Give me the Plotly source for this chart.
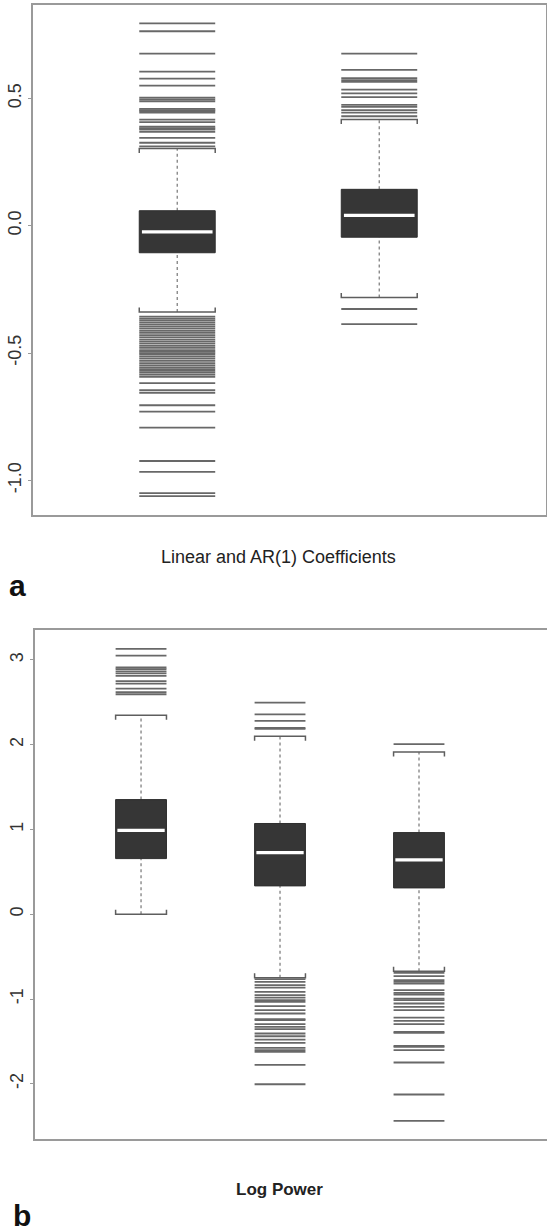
import plotly.graph_objects as go

# ---------------- DATA ----------------
# Panel a: Linear and AR(1) coefficients (2 groups)
a_pos = [1, 2]
a_q1 = [-0.106, -0.045]
a_med = [-0.024, 0.041]
a_q3 = [0.059, 0.143]
a_lo_whisk = [-0.339, -0.282]
a_hi_whisk = [0.303, 0.417]
a_out_1 = [0.795, 0.764, 0.676, 0.605, 0.578, 0.550, 0.503, 0.496, 0.489, 0.459, 0.454,
           0.450, 0.444, 0.417, 0.407, 0.389, 0.383, 0.378, 0.369, 0.345, 0.326, 0.312,
           -0.357, -0.365, -0.372, -0.380, -0.388, -0.396, -0.404, -0.413, -0.421, -0.430,
           -0.438, -0.447, -0.455, -0.463, -0.472, -0.480, -0.489, -0.494, -0.500, -0.506,
           -0.514, -0.522, -0.531, -0.540, -0.548, -0.556, -0.563, -0.570, -0.577, -0.585,
           -0.593, -0.618, -0.646, -0.656, -0.705, -0.730, -0.793, -0.924, -0.967, -1.050,
           -1.062]
a_out_2 = [0.676, 0.612, 0.580, 0.572, 0.565, 0.535, 0.520, 0.505, 0.475, 0.467, 0.454,
           0.444, 0.430, -0.327, -0.386]

# Panel b: Log power (3 groups)
b_pos = [1, 2, 3]
b_q1 = [0.656, 0.334, 0.310]
b_med = [0.990, 0.727, 0.640]
b_q3 = [1.352, 1.070, 0.963]
b_lo_whisk = [0.0, -0.750, -0.672]
b_hi_whisk = [2.347, 2.100, 1.914]
b_out_1 = [3.130, 3.050, 2.910, 2.890, 2.865, 2.840, 2.810, 2.750, 2.720, 2.660, 2.620, 2.594]
b_out_2 = [2.495, 2.358, 2.280, 2.197, 2.185,
           -0.766, -0.798, -0.837, -0.865, -0.916, -0.955, -0.983, -1.014, -1.034, -1.085,
           -1.132, -1.171, -1.238, -1.250, -1.297, -1.329, -1.356, -1.407, -1.439, -1.478,
           -1.517, -1.576, -1.604, -1.623, -1.777, -2.005]
b_out_3 = [2.005,
           -0.692, -0.731, -0.778, -0.798, -0.818, -0.896, -0.928, -0.947, -0.995, -1.014,
           -1.053, -1.093, -1.132, -1.219, -1.258, -1.297, -1.388, -1.400, -1.553, -1.565,
           -1.604, -1.749, -2.126, -2.437]

a_ticks = [-1.0, -0.5, 0.0, 0.5]
a_ticklabels = ["-1.0", "-0.5", "0.0", "0.5"]
b_ticks = [-2, -1, 0, 1, 2, 3]
b_ticklabels = ["-2", "-1", "0", "1", "2", "3"]

# ---------------- STYLE ----------------
W, H = 547, 1231
BOX_FILL = "#363636"
OUT_COL = "#686868"
WHISK_COL = "#808080"
FRAME_COL = "#9a9a9a"
FONT = "Liberation Sans, Arial, Helvetica, sans-serif"

fig = go.Figure()


def add_panel(xa, ya, pos, q1, med, q3, lo, hi, outs, half, stap_len):
    xref = "x" if xa == 1 else f"x{xa}"
    yref = "y" if ya == 1 else f"y{ya}"
    # whiskers (dotted)
    wx, wy = [], []
    for p, a, b_, c, d in zip(pos, lo, q1, q3, hi):
        wx += [p, p, None, p, p, None]
        wy += [a, b_, None, c, d, None]
    fig.add_trace(go.Scatter(x=wx, y=wy, mode="lines", xaxis=xref, yaxis=yref,
                             line=dict(color=WHISK_COL, width=1.3, dash="dot"),
                             hoverinfo="skip", showlegend=False))
    # staples
    sx, sy = [], []
    for p, a, d in zip(pos, lo, hi):
        sx += [p - half, p - half, p + half, p + half, None]
        sy += [d - stap_len, d, d, d - stap_len, None]
        sx += [p - half, p - half, p + half, p + half, None]
        sy += [a + stap_len, a, a, a + stap_len, None]
    fig.add_trace(go.Scatter(x=sx, y=sy, mode="lines", xaxis=xref, yaxis=yref,
                             line=dict(color="#5e5e5e", width=1.5),
                             hoverinfo="skip", showlegend=False))
    # outliers as horizontal dashes
    for p, vals in zip(pos, outs):
        ox, oy = [], []
        for v in vals:
            ox += [p - half, p + half, None]
            oy += [v, v, None]
        fig.add_trace(go.Scatter(x=ox, y=oy, mode="lines", xaxis=xref, yaxis=yref,
                                 line=dict(color=OUT_COL, width=1.8),
                                 hoverinfo="skip", showlegend=False))
    # boxes
    for p, a, m, c in zip(pos, q1, med, q3):
        fig.add_trace(go.Scatter(x=[p - half, p + half, p + half, p - half, p - half],
                                 y=[a, a, c, c, a], mode="lines", fill="toself",
                                 fillcolor=BOX_FILL, xaxis=xref, yaxis=yref,
                                 line=dict(color="#2e2e2e", width=1),
                                 hoverinfo="skip", showlegend=False))
        fig.add_trace(go.Scatter(x=[p - half * 0.93, p + half * 0.93], y=[m, m],
                                 mode="lines", xaxis=xref, yaxis=yref,
                                 line=dict(color="white", width=3.2),
                                 hoverinfo="skip", showlegend=False))


a_range = [-1.136, 0.867]
b_range = [-2.651, 3.352]
a_dom = [1 - 515 / H, 1 - 5 / H]
b_dom = [1 - 1139 / H, 1 - 630 / H]
a_pxu = (a_dom[1] - a_dom[0]) * H / (a_range[1] - a_range[0])
b_pxu = (b_dom[1] - b_dom[0]) * H / (b_range[1] - b_range[0])

add_panel(1, 1, a_pos, a_q1, a_med, a_q3, a_lo_whisk, a_hi_whisk,
          [a_out_1, a_out_2], 0.188, 4.5 / a_pxu)
add_panel(2, 2, b_pos, b_q1, b_med, b_q3, b_lo_whisk, b_hi_whisk,
          [b_out_1, b_out_2, b_out_3], 0.183, 4.5 / b_pxu)

axis_common = dict(showgrid=False, zeroline=False, linecolor=FRAME_COL, linewidth=1.5,
                   showline=True)

fig.update_layout(
    width=W, height=H, margin=dict(l=0, r=0, t=0, b=0),
    paper_bgcolor="white", plot_bgcolor="white",
    font=dict(family=FONT, color="#333333"),
    xaxis=dict(domain=[33 / W, 545.5 / W], range=[0.286, 2.823], anchor="y",
               showticklabels=False, ticks="", mirror=True, **axis_common),
    yaxis=dict(domain=a_dom, range=a_range, anchor="x", tickvals=a_ticks,
               ticktext=a_ticklabels, ticks="outside", ticklen=3, tickcolor=FRAME_COL,
               tickangle=-90, tickfont=dict(size=18, color="#333333"),
               mirror=True, **axis_common),
    xaxis2=dict(domain=[35 / W, 1.0], range=[0.237, 3.921], anchor="y2",
                showticklabels=False, ticks="", mirror=True, **axis_common),
    yaxis2=dict(domain=b_dom, range=b_range, anchor="x2", tickvals=b_ticks,
                ticktext=b_ticklabels, ticks="outside", ticklen=3, tickcolor=FRAME_COL,
                tickangle=-90, tickfont=dict(size=18, color="#333333"),
                mirror=False, **axis_common),
)

annots = [
    dict(text="Linear and AR(1) Coefficients", x=278 / W, y=1 - 557 / H,
         font=dict(size=18, color="#222222")),
    dict(text="<b>a</b>", x=17 / W, y=1 - 585 / H, font=dict(size=30, color="#111111")),
    dict(text="<b>Log Power</b>", x=279 / W, y=1 - 1189 / H,
         font=dict(size=17, color="#222222")),
    dict(text="<b>b</b>", x=22 / W, y=1 - 1215 / H, font=dict(size=30, color="#111111")),
]
for an in annots:
    fig.add_annotation(xref="paper", yref="paper", showarrow=False,
                       xanchor="center", yanchor="middle", **an)

fig.write_html("out.html")
